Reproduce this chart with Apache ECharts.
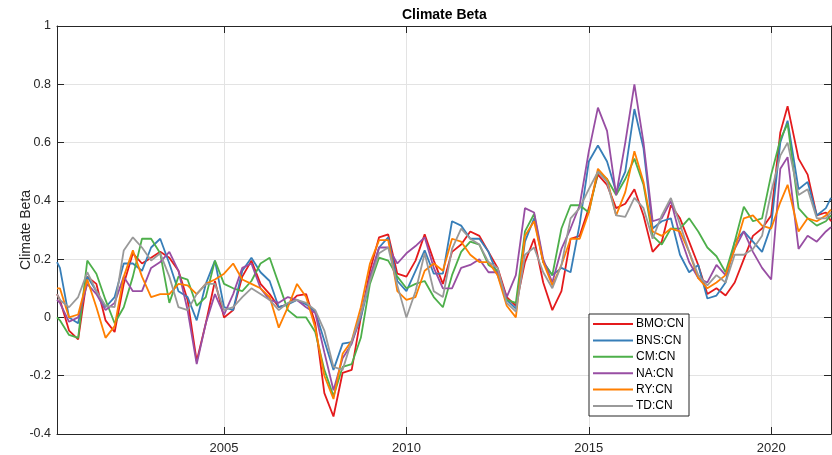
<!DOCTYPE html>
<html><head><meta charset="utf-8">
<script src="https://cdn.jsdelivr.net/npm/echarts@6/dist/echarts.min.js"></script>
<style>html,body{margin:0;padding:0;background:#fff}#c{width:832px;height:455px}</style>
</head><body><div id="c"></div>
<script>
const dates = [2000.42,2000.5,2000.75,2001.0,2001.25,2001.5,2001.75,2002.0,2002.25,2002.5,2002.75,2003.0,2003.25,2003.5,2003.75,2004.0,2004.25,2004.5,2004.75,2005.0,2005.25,2005.5,2005.75,2006.0,2006.25,2006.5,2006.75,2007.0,2007.25,2007.5,2007.75,2008.0,2008.25,2008.5,2008.75,2009.0,2009.25,2009.5,2009.75,2010.0,2010.25,2010.5,2010.75,2011.0,2011.25,2011.5,2011.75,2012.0,2012.25,2012.5,2012.75,2013.0,2013.25,2013.5,2013.75,2014.0,2014.25,2014.5,2014.75,2015.0,2015.25,2015.5,2015.75,2016.0,2016.25,2016.5,2016.75,2017.0,2017.25,2017.5,2017.75,2018.0,2018.25,2018.5,2018.75,2019.0,2019.25,2019.5,2019.75,2020.0,2020.25,2020.45,2020.75,2021.0,2021.25,2021.5,2021.64];

const bmo = [0.08,0.06,-0.045,-0.075,0.14,0.115,-0.01,-0.05,0.115,0.22,
  0.185,0.205,0.225,0.205,0.16,0.06,-0.15,-0.02,0.125,0.0,
  0.025,0.14,0.195,0.115,0.08,0.035,0.045,0.075,0.08,-0.02,
  -0.26,-0.34,-0.19,-0.18,0.0,0.16,0.275,0.285,0.15,0.14,
  0.195,0.285,0.195,0.115,0.225,0.25,0.295,0.28,0.225,0.17,
  0.07,0.04,0.19,0.27,0.12,0.025,0.09,0.27,0.28,0.375,
  0.49,0.455,0.375,0.39,0.44,0.35,0.225,0.26,0.385,0.34,
  0.26,0.18,0.08,0.1,0.075,0.12,0.2,0.28,0.305,0.35,
  0.635,0.725,0.545,0.49,0.35,0.36,0.33];
const bns = [0.19,0.17,0.0,-0.02,0.14,0.09,0.035,0.07,0.185,0.185,
  0.16,0.24,0.27,0.185,0.09,0.07,-0.01,0.115,0.195,0.035,
  0.025,0.16,0.205,0.155,0.125,0.035,0.045,0.06,0.045,0.02,
  -0.08,-0.18,-0.09,-0.085,0.0,0.125,0.24,0.275,0.125,0.09,
  0.16,0.23,0.15,0.15,0.33,0.315,0.27,0.27,0.225,0.145,
  0.06,0.03,0.26,0.34,0.19,0.145,0.17,0.155,0.32,0.535,
  0.59,0.535,0.43,0.5,0.715,0.58,0.305,0.33,0.34,0.215,
  0.155,0.18,0.065,0.075,0.12,0.26,0.295,0.26,0.225,0.315,
  0.6,0.675,0.44,0.465,0.35,0.375,0.41];
const cm = [0.0,-0.01,-0.06,-0.07,0.195,0.15,0.06,-0.02,0.035,0.14,
  0.27,0.27,0.22,0.05,0.14,0.13,0.04,0.07,0.195,0.115,
  0.1,0.09,0.125,0.185,0.205,0.115,0.025,0.0,0.0,-0.05,
  -0.18,-0.27,-0.17,-0.16,-0.07,0.115,0.205,0.195,0.14,0.1,
  0.115,0.125,0.07,0.035,0.145,0.225,0.26,0.25,0.18,0.16,
  0.06,0.05,0.295,0.355,0.19,0.145,0.305,0.385,0.385,0.36,
  0.5,0.475,0.42,0.475,0.545,0.455,0.28,0.25,0.305,0.305,
  0.34,0.295,0.24,0.21,0.155,0.26,0.38,0.33,0.34,0.49,
  0.61,0.665,0.375,0.34,0.315,0.33,0.35];
const na = [0.06,0.05,-0.015,0.0,0.115,0.08,0.025,0.05,0.14,0.09,
  0.09,0.17,0.19,0.225,0.16,0.025,-0.16,-0.02,0.08,0.01,
  0.08,0.17,0.185,0.1,0.06,0.05,0.07,0.06,0.035,0.015,
  -0.12,-0.25,-0.14,-0.09,0.01,0.14,0.24,0.24,0.185,0.22,
  0.245,0.275,0.17,0.1,0.1,0.17,0.18,0.2,0.155,0.155,
  0.07,0.145,0.375,0.36,0.2,0.12,0.235,0.305,0.385,0.57,
  0.72,0.64,0.42,0.6,0.8,0.6,0.33,0.34,0.4,0.28,
  0.19,0.135,0.12,0.18,0.145,0.235,0.295,0.225,0.17,0.13,
  0.51,0.55,0.235,0.28,0.26,0.295,0.31];
const ry = [0.1,0.1,0.0,0.01,0.13,0.035,-0.07,-0.03,0.14,0.23,
  0.14,0.07,0.08,0.08,0.115,0.11,0.08,0.115,0.13,0.15,
  0.185,0.13,0.115,0.1,0.07,-0.035,0.035,0.115,0.07,-0.035,
  -0.2,-0.28,-0.125,-0.08,0.035,0.185,0.265,0.265,0.09,0.06,
  0.07,0.16,0.185,0.16,0.27,0.26,0.215,0.19,0.19,0.145,
  0.04,0.0,0.28,0.33,0.19,0.11,0.18,0.27,0.27,0.36,
  0.51,0.475,0.35,0.43,0.57,0.465,0.295,0.28,0.305,0.295,
  0.225,0.135,0.1,0.12,0.145,0.235,0.34,0.35,0.315,0.305,
  0.395,0.455,0.295,0.34,0.33,0.35,0.37];
const td = [0.08,0.06,0.035,0.07,0.155,0.09,0.04,0.035,0.23,0.275,
  0.24,0.195,0.22,0.14,0.035,0.025,0.08,0.115,0.115,0.025,
  0.035,0.07,0.1,0.08,0.06,0.025,0.05,0.06,0.05,0.025,
  -0.045,-0.17,-0.18,-0.08,0.01,0.125,0.22,0.24,0.11,0.0,
  0.09,0.22,0.09,0.07,0.235,0.305,0.27,0.25,0.19,0.17,
  0.05,0.02,0.215,0.24,0.155,0.1,0.18,0.34,0.375,0.44,
  0.5,0.465,0.35,0.345,0.41,0.375,0.27,0.35,0.41,0.32,
  0.225,0.145,0.11,0.145,0.12,0.215,0.215,0.235,0.28,0.43,
  0.555,0.6,0.42,0.44,0.34,0.34,0.36];

const seriesNames = ['BMO:CN','BNS:CN','CM:CN','NA:CN','RY:CN','TD:CN'];
const seriesValues = [bmo, bns, cm, na, ry, td];
const colors = ['#e41a1c','#377eb8','#4daf4a','#984ea3','#ff7f00','#999999'];
const xTickYears = [2005, 2010, 2015, 2020];
const xMin = 2000.42, xMax = 2021.64;
const yMin = -0.4, yMax = 1, yStep = 0.2;

const F = '"Liberation Sans", Arial, Helvetica, sans-serif';
const axisCol = '#262626';
const gridCol = '#e3e3e3';

const chart = echarts.init(document.getElementById('c'), null, {renderer: 'canvas'});

const series = seriesNames.map((n, i) => ({
  name: n,
  type: 'line',
  data: dates.map((d, k) => [d, seriesValues[i][k]]),
  symbol: 'none',
  showSymbol: false,
  lineStyle: {width: 1.8, color: colors[i]},
  itemStyle: {color: colors[i]},
  xAxisIndex: 0, yAxisIndex: 0,
  z: 2 + i
}));

chart.setOption({
  animation: false,
  backgroundColor: '#fff',
  title: {
    text: 'Climate Beta', left: 402, top: 8, padding: 0,
    textStyle: {fontFamily: F, fontSize: 14, fontWeight: 'bold', color: '#000'}
  },
  grid: {left: 57, right: 1, top: 26, bottom: 21, containLabel: false},
  legend: {
    data: seriesNames.map(n => ({name: n, icon: 'rect'})),
    orient: 'vertical',
    left: 589, top: 314,
    padding: [4, 5, 4, 4],
    itemWidth: 40, itemHeight: 2, itemGap: 4.4,
    backgroundColor: '#fff',
    borderColor: axisCol, borderWidth: 1, borderRadius: 0,
    textStyle: {fontFamily: F, fontSize: 12, color: '#000', padding: [0, 0, 0, -2]},
    selectedMode: false
  },
  xAxis: [{
    type: 'value', min: xMin, max: xMax, position: 'bottom',
    axisLine: {show: true, onZero: false, lineStyle: {color: axisCol, width: 1}},
    axisTick: {show: true, inside: true, length: 7, customValues: xTickYears, lineStyle: {color: axisCol}},
    axisLabel: {show: true, customValues: xTickYears, margin: 8, fontFamily: F, fontSize: 13, color: axisCol,
      formatter: v => String(Math.round(v))},
    splitLine: {show: true, lineStyle: {color: gridCol, width: 1}}
  }, {
    type: 'value', min: xMin, max: xMax, position: 'top',
    axisLine: {show: true, onZero: false, lineStyle: {color: axisCol, width: 1}},
    axisTick: {show: true, inside: true, length: 7, customValues: xTickYears, lineStyle: {color: axisCol}},
    axisLabel: {show: false},
    splitLine: {show: false}
  }],
  yAxis: [{
    type: 'value', min: yMin, max: yMax, interval: yStep, position: 'left',
    name: 'Climate Beta', nameLocation: 'middle', nameGap: 24, nameMoveOverlap: false,
    nameTextStyle: {fontFamily: F, fontSize: 14, color: axisCol},
    axisLine: {show: true, onZero: false, lineStyle: {color: axisCol, width: 1}},
    axisTick: {show: true, inside: true, length: 7, lineStyle: {color: axisCol}},
    axisLabel: {margin: 6, fontFamily: F, fontSize: 12.5, color: axisCol,
      formatter: v => String(Math.round(v * 10) / 10)},
    splitLine: {show: true, lineStyle: {color: gridCol, width: 1}}
  }, {
    type: 'value', min: yMin, max: yMax, interval: yStep, position: 'right',
    axisLine: {show: true, onZero: false, lineStyle: {color: axisCol, width: 1}},
    axisTick: {show: true, inside: true, length: 7, lineStyle: {color: axisCol}},
    axisLabel: {show: false},
    splitLine: {show: false}
  }],
  series: series
});
</script></body></html>
